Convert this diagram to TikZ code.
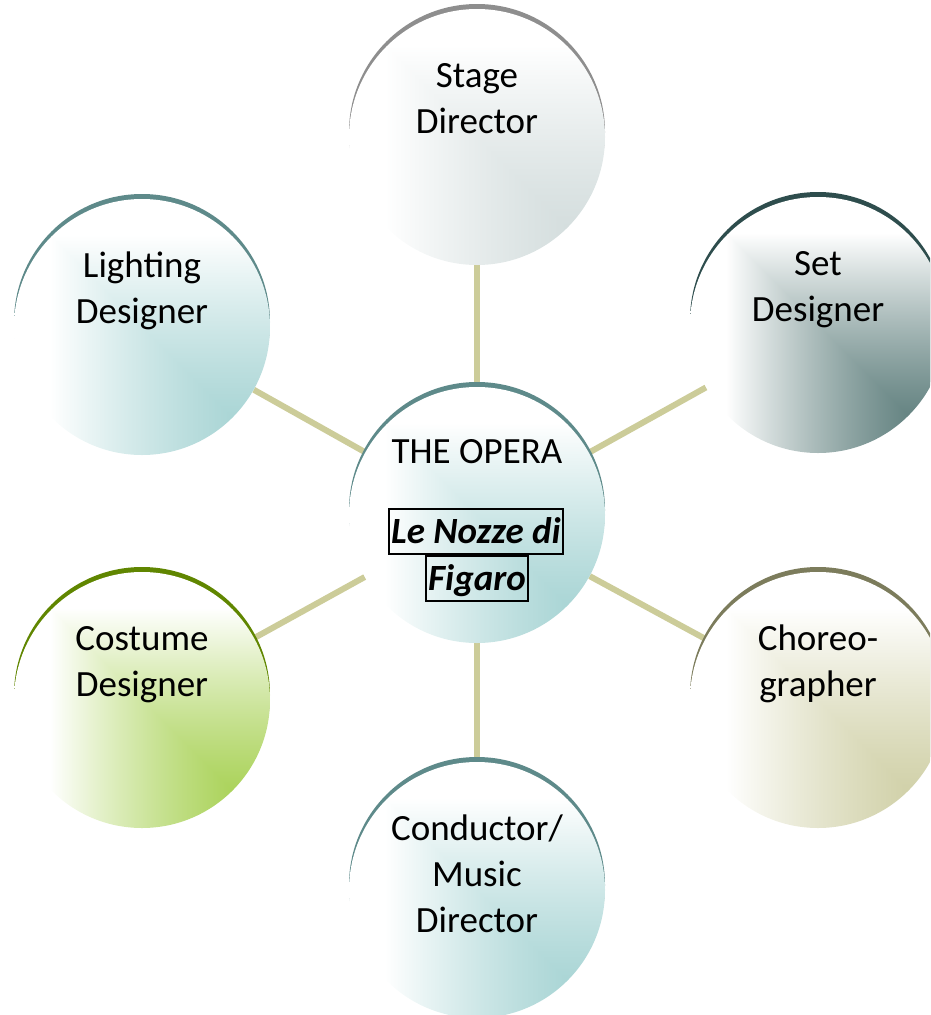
\documentclass[tikz,border=0pt]{standalone}
\usepackage{fontspec}
\setmainfont{Carlito}
\usetikzlibrary{backgrounds}

% Corner gradient: full colour towards the lower right, white towards the upper left
\pgfdeclarefunctionalshading[fadecol]{cornerfade}{\pgfpoint{-50bp}{-50bp}}{\pgfpoint{50bp}{50bp}}
{\pgfshadecolortorgb{fadecol}{\fc}}
{50 add exch 50 exch sub
 2 copy lt {exch} if pop
 100 div 0.18 sub 0.5 div
 dup 0 lt {pop 0} if dup 1 gt {pop 1} if
 dup sqrt mul
 dup 1 \fcred\space sub mul \fcred\space add
 exch dup 1 \fcgreen\space sub mul \fcgreen\space add
 exch 1 \fcblue\space sub mul \fcblue\space add}

\definecolor{linkc}{HTML}{CCCC99}
\definecolor{grayrim}{HTML}{8E8E8E}
\definecolor{grayfill}{HTML}{CDD8D8}
\definecolor{tealrim}{HTML}{5E8A8A}
\definecolor{tealfill}{HTML}{9BCECE}
\definecolor{slaterim}{HTML}{2E4D4D}
\definecolor{slatefill}{HTML}{4A6E6C}
\definecolor{greenrim}{HTML}{608600}
\definecolor{greenfill}{HTML}{9CCB3E}
\definecolor{khakirim}{HTML}{7C7C5C}
\definecolor{khakifill}{HTML}{C9C99A}
\colorlet{fadecol}{white}

\tikzset{
  disc/.style={circle, minimum size=256pt, inner sep=0pt, shade, shading=cornerfade},
  link/.style={draw=linkc, line width=6pt},
  role/.style={font=\fontsize{37}{46}\selectfont, align=center, anchor=north, inner sep=0pt},
  titlebox/.style={draw, line width=1.6pt, anchor=base,
    font=\fontsize{37}{46}\selectfont\bfseries\itshape,
    inner xsep=2pt, inner ysep=0pt, text height=34pt, text depth=11pt},
}

% name, x, y, rim colour, fill colour, label
\newcommand\rolecircle[6]{%
  \fill[#4] (#2,#3-5) circle[radius=128];
  \colorlet{fadecol}{#5}%
  \node[disc] (#1) at (#2,#3) {};
  \node[role] (#1-text) at (#2,#3-82) {\strut #6};
}

\begin{document}
\begin{tikzpicture}[x=1pt, y=-1pt]
  \useasboundingbox (0,0) rectangle (930,1015);
  \clip (0,0) rectangle (930,1015);

  \rolecircle{stage}{477}{137}{grayrim}{grayfill}{Stage\\Director}
  \rolecircle{lighting}{142}{327}{tealrim}{tealfill}{Lighting\\Designer}
  \rolecircle{set}{818}{325}{slaterim}{slatefill}{Set\\Designer}
  \rolecircle{costume}{142}{700}{greenrim}{greenfill}{Costume\\Designer}
  \rolecircle{choreo}{818}{700}{khakirim}{khakifill}{Choreo-\\grapher}
  \rolecircle{conductor}{477}{890}{tealrim}{tealfill}{Conductor/\\Music\\Director}

  % central circle
  \fill[tealrim] (477,510) circle[radius=128];
  \colorlet{fadecol}{tealfill}
  \node[disc] (opera) at (477,515) {};
  \node[role] (opera-title) at (477,431) {\strut THE OPERA};
  \node[titlebox] (opera-name1) at (476,543) {Le Nozze di};
  \node[titlebox] (opera-name2) at (477,590) {Figaro};

  % spokes behind the circles
  \begin{scope}[on background layer]
    \foreach \n in {stage,set,choreo,conductor,costume,lighting}
      \draw[link] (opera) -- (\n);
  \end{scope}
\end{tikzpicture}
\end{document}
